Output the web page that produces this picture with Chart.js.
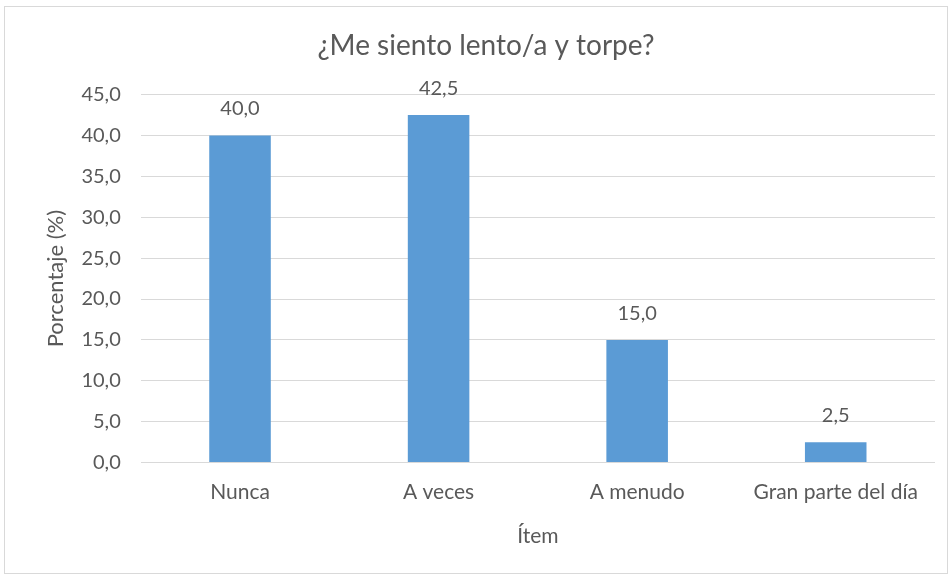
<!DOCTYPE html>
<html>
<head>
<meta charset="utf-8">
<script src="https://cdn.jsdelivr.net/npm/chart.js@4"></script>
<style>
  html, body { margin: 0; padding: 0; background: #fff; }
  #frame {
    position: absolute; left: 4px; top: 6px;
    width: 944px; height: 568px;
    border: 1px solid #d9d9d9; box-sizing: border-box;
  }
  #chart { display: block; }
</style>
</head>
<body>
<div id="frame"><canvas id="chart" width="942" height="566"></canvas></div>
<script>
// data
const categories = ['Nunca', 'A veces', 'A menudo', 'Gran parte del día'];
const percentages = [40.0, 42.5, 15.0, 2.5];
const yMax = 45;
const yStep = 5;

const textColor = '#595959';
const barColor = '#5b9bd5';
const fontFamily = "Lato, 'Open Sans', sans-serif";

const fmt = v => v.toFixed(1).replace('.', ',');

// labels above bars
const valueLabels = {
  id: 'valueLabels',
  afterDatasetsDraw(chart) {
    const ctx = chart.ctx;
    const meta = chart.getDatasetMeta(0);
    ctx.save();
    ctx.font = '20px ' + fontFamily;
    ctx.fillStyle = textColor;
    ctx.textAlign = 'center';
    ctx.textBaseline = 'alphabetic';
    meta.data.forEach((bar, i) => {
      ctx.fillText(fmt(percentages[i]), bar.x, bar.y - 20);
    });
    ctx.restore();
  }
};

new Chart(document.getElementById('chart'), {
  type: 'bar',
  data: {
    labels: categories,
    datasets: [{
      data: percentages,
      backgroundColor: barColor,
      borderWidth: 0,
      categoryPercentage: 1,
      barPercentage: 0.31
    }]
  },
  options: {
    responsive: false,
    animation: false,
    layout: { padding: { top: 8, right: 12, bottom: 20, left: 32 } },
    plugins: {
      legend: { display: false },
      tooltip: { enabled: false },
      title: {
        display: true,
        text: '¿Me siento lento/a y torpe?',
        color: textColor,
        font: { family: fontFamily, size: 28, weight: 'normal' },
        padding: { top: 14, bottom: 32 }
      }
    },
    scales: {
      y: {
        min: 0, max: yMax,
        ticks: {
          stepSize: yStep,
          color: textColor,
          font: { family: fontFamily, size: 20 },
          padding: 20,
          callback: v => fmt(v)
        },
        grid: { color: '#d9d9d9', drawTicks: false },
        border: { display: false },
        title: {
          display: true,
          text: 'Porcentaje (%)',
          color: textColor,
          font: { family: fontFamily, size: 22 },
          padding: { top: 6, bottom: -8 }
        }
      },
      x: {
        ticks: {
          color: textColor,
          font: { family: fontFamily, size: 21 },
          padding: 17,
          maxRotation: 0
        },
        grid: { display: false, drawTicks: false },
        border: { display: false },
        title: {
          display: true,
          text: 'Ítem',
          color: textColor,
          font: { family: fontFamily, size: 21 },
          padding: { top: 2 }
        }
      }
    }
  },
  plugins: [valueLabels]
});
</script>
</body>
</html>
